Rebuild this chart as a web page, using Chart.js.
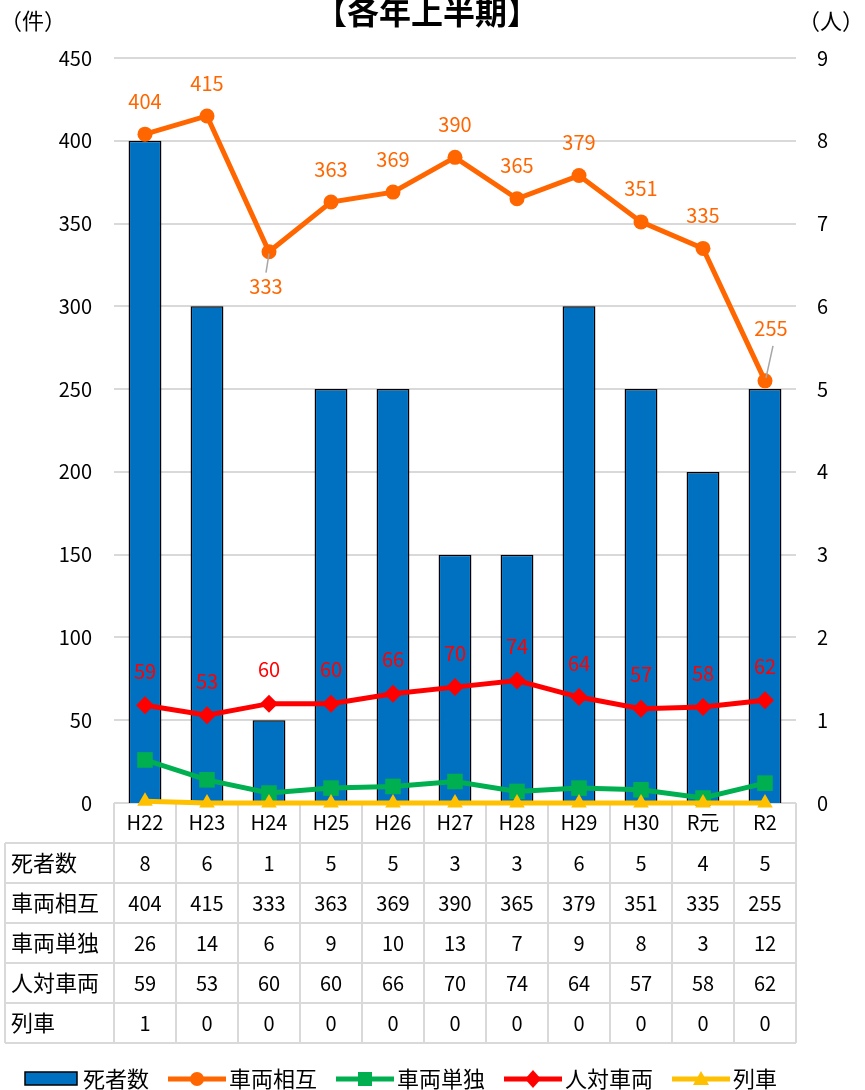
<!DOCTYPE html>
<html>
<head>
<meta charset="utf-8">
<script src="https://cdn.jsdelivr.net/npm/chart.js@4"></script>
<style>
  html, body { margin: 0; padding: 0; background: #fff; }
  #wrap { width: 865px; height: 1090px; }
</style>
</head>
<body>
<div id="wrap"><canvas id="myChart" width="865" height="1090"></canvas></div>
<script>
"use strict";

// 年次 (x軸)
const years = ['H22', 'H23', 'H24', 'H25', 'H26', 'H27', 'H28', 'H29', 'H30', 'R元', 'R2'];

// 系列
const deaths = [8, 6, 1, 5, 5, 3, 3, 6, 5, 4, 5];               // 死者数 (人)
const vehicleMutual = [404, 415, 333, 363, 369, 390, 365, 379, 351, 335, 255]; // 車両相互 (件)
const vehicleSingle = [26, 14, 6, 9, 10, 13, 7, 9, 8, 3, 12];   // 車両単独
const pedestrian = [59, 53, 60, 60, 66, 70, 74, 64, 57, 58, 62]; // 人対車両
const train = [1, 0, 0, 0, 0, 0, 0, 0, 0, 0, 0];                // 列車

// 軸の目盛
const leftMax = 450, leftStep = 50;
const rightMax = 9, rightStep = 1;

const FONT = '"Noto Sans CJK JP", "Noto Sans", sans-serif';
const ORANGE = '#FF6600';
const RED = '#FF0000';
const GREEN = '#00B050';
const YELLOW = '#FFC000';
const BLUE = '#0070C0';
const GRID = '#D9D9D9';

// ラベルの置き方 (特例だけ)
const orangeSpecial = {
    2: { dx: -3, dy: 35, leader: true },
    10: { dx: 6, dy: -52, leader: true }
};

// タイトル・単位
const titlePlugin = {
    id: 'titleText',
    afterDraw(chart) {
        const ctx = chart.ctx;
        ctx.save();
        ctx.fillStyle = '#000';
        ctx.textBaseline = 'middle';
        ctx.textAlign = 'center';
        ctx.font = 'bold 32px ' + FONT;
        ctx.fillText('【各年上半期】', 427, 12);
        ctx.font = '22px ' + FONT;
        ctx.textAlign = 'left';
        ctx.fillText('（件）', 0, 21);
        ctx.fillText('（人）', 798, 21);
        ctx.restore();
    }
};

// データラベル
const labelPlugin = {
    id: 'pointLabels',
    afterDatasetsDraw(chart) {
        const ctx = chart.ctx;
        ctx.save();
        ctx.font = '20px ' + FONT;
        ctx.textAlign = 'center';
        ctx.textBaseline = 'middle';

        // 車両相互
        const m1 = chart.getDatasetMeta(1);
        m1.data.forEach((pt, i) => {
            const sp = orangeSpecial[i];
            const dx = sp ? sp.dx : 0;
            const dy = sp ? sp.dy : -33;
            const lx = pt.x + dx, ly = pt.y + dy;
            if (sp && sp.leader) {
                ctx.strokeStyle = '#A6A6A6';
                ctx.lineWidth = 1.5;
                ctx.beginPath();
                if (dy > 0) {
                    ctx.moveTo(pt.x, pt.y + 2);
                    ctx.lineTo(lx, ly - 14);
                } else {
                    ctx.moveTo(lx + 2, ly + 17);
                    ctx.lineTo(pt.x + 1, pt.y - 3);
                }
                ctx.stroke();
            }
            ctx.fillStyle = ORANGE;
            ctx.fillText(String(vehicleMutual[i]), lx, ly);
        });

        // 人対車両
        const m3 = chart.getDatasetMeta(3);
        ctx.fillStyle = RED;
        m3.data.forEach((pt, i) => {
            ctx.fillText(String(pedestrian[i]), pt.x, pt.y - 34);
        });
        ctx.restore();
    }
};

// データ表 (線の下に描く)
const tablePlugin = {
    id: 'dataTable',
    beforeDatasetsDraw(chart) {
        const ctx = chart.ctx;
        const xs = chart.scales.x;
        const area = chart.chartArea;
        const rowH = 40;
        const top = area.bottom;
        const tableLeft = 5;
        const colW = xs.getPixelForValue(1) - xs.getPixelForValue(0);
        const rows = [
            ['死者数', deaths],
            ['車両相互', vehicleMutual],
            ['車両単独', vehicleSingle],
            ['人対車両', pedestrian],
            ['列車', train]
        ];
        const bottom = top + rowH * (rows.length + 1);

        ctx.save();
        ctx.strokeStyle = GRID;
        ctx.lineWidth = 2;
        ctx.beginPath();
        // 横線
        ctx.moveTo(area.left, top);
        ctx.lineTo(area.right, top);
        for (let r = 1; r <= rows.length + 1; r++) {
            ctx.moveTo(tableLeft, top + rowH * r);
            ctx.lineTo(area.right, top + rowH * r);
        }
        // 縦線
        ctx.moveTo(tableLeft, top + rowH);
        ctx.lineTo(tableLeft, bottom);
        for (let c = 0; c <= years.length; c++) {
            const x = xs.getPixelForValue(0) - colW / 2 + colW * c;
            ctx.moveTo(x, top);
            ctx.lineTo(x, bottom);
        }
        ctx.stroke();

        ctx.fillStyle = '#000';
        ctx.textBaseline = 'middle';
        rows.forEach((row, r) => {
            const cy = top + rowH * (r + 1) + rowH / 2;
            ctx.textAlign = 'left';
            ctx.font = '22px ' + FONT;
            ctx.fillText(row[0], 11, cy);
            ctx.textAlign = 'center';
            ctx.font = '20px ' + FONT;
            row[1].forEach((v, i) => {
                ctx.fillText(String(v), xs.getPixelForValue(i), cy);
            });
        });
        ctx.restore();
    }
};

// 凡例
const legendPlugin = {
    id: 'customLegend',
    afterDraw(chart) {
        const ctx = chart.ctx;
        const y = 1079;
        let x = 25;
        ctx.save();
        ctx.font = '22px ' + FONT;
        ctx.textBaseline = 'middle';
        ctx.textAlign = 'left';
        chart.data.datasets.forEach((ds, i) => {
            if (ds.type === 'bar') {
                ctx.fillStyle = ds.backgroundColor;
                ctx.fillRect(x, y - 7, 52, 13);
                ctx.strokeStyle = '#000';
                ctx.lineWidth = 1.5;
                ctx.strokeRect(x, y - 7, 52, 13);
                x += 58;
            } else {
                ctx.strokeStyle = ds.borderColor;
                ctx.lineWidth = 5;
                ctx.beginPath();
                ctx.moveTo(x, y);
                ctx.lineTo(x + 58, y);
                ctx.stroke();
                const cx = x + 29;
                ctx.fillStyle = ds.borderColor;
                ctx.beginPath();
                const r = 7;
                if (ds.pointStyle === 'circle') {
                    ctx.arc(cx, y, r, 0, Math.PI * 2);
                } else if (ds.pointStyle === 'rect') {
                    ctx.rect(cx - r, y - r, r * 2, r * 2);
                } else if (ds.pointStyle === 'rectRot') {
                    ctx.moveTo(cx, y - r - 2);
                    ctx.lineTo(cx + r + 1, y);
                    ctx.lineTo(cx, y + r + 2);
                    ctx.lineTo(cx - r - 1, y);
                    ctx.closePath();
                } else {
                    ctx.moveTo(cx, y - r - 1);
                    ctx.lineTo(cx + r + 1, y + r - 1);
                    ctx.lineTo(cx - r - 1, y + r - 1);
                    ctx.closePath();
                }
                ctx.fill();
                x += 61;
            }
            ctx.fillStyle = '#000';
            ctx.fillText(ds.label, x, y);
            x += ctx.measureText(ds.label).width + 19;
        });
        ctx.restore();
    }
};

function lineSet(label, data, color, style, radius, order) {
    return {
        type: 'line',
        label: label,
        data: data,
        yAxisID: 'y',
        borderColor: color,
        backgroundColor: color,
        borderWidth: 5,
        pointStyle: style,
        pointRadius: radius,
        pointBorderWidth: 0,
        pointBackgroundColor: color,
        tension: 0,
        clip: false,
        order: order
    };
}

const ctx = document.getElementById('myChart').getContext('2d');
const chart = new Chart(ctx, {
    data: {
        labels: years,
        datasets: [
            {
                type: 'bar',
                label: '死者数',
                data: deaths,
                yAxisID: 'y1',
                backgroundColor: BLUE,
                borderColor: '#000',
                borderWidth: 1.5,
                categoryPercentage: 1,
                barPercentage: 0.53,
                order: 10
            },
            lineSet('車両相互', vehicleMutual, ORANGE, 'circle', 7.5, 4),
            lineSet('車両単独', vehicleSingle, GREEN, 'rect', 11, 3),
            lineSet('人対車両', pedestrian, RED, 'rectRot', 9, 2),
            lineSet('列車', train, YELLOW, 'triangle', 9, 1)
        ]
    },
    options: {
        responsive: false,
        animation: false,
        layout: { padding: { top: 58, left: 0, right: 0, bottom: 0 } },
        plugins: {
            legend: { display: false },
            tooltip: { enabled: false },
            title: { display: false }
        },
        scales: {
            x: {
                grid: { display: false, drawTicks: false },
                border: { display: false },
                ticks: {
                    color: '#000',
                    font: { family: FONT, size: 20 },
                    padding: 7,
                    maxRotation: 0,
                    autoSkip: false
                },
                afterFit(scale) { scale.height = 287; }
            },
            y: {
                position: 'left',
                min: 0,
                max: leftMax,
                grid: { color: GRID, lineWidth: 2, drawTicks: false },
                border: { display: false },
                ticks: {
                    stepSize: leftStep,
                    color: '#000',
                    font: { family: FONT, size: 20 },
                    padding: 22
                },
                afterFit(scale) { scale.width = 114; }
            },
            y1: {
                position: 'right',
                min: 0,
                max: rightMax,
                grid: { display: false, drawTicks: false },
                border: { display: false },
                ticks: {
                    stepSize: rightStep,
                    color: '#000',
                    font: { family: FONT, size: 20 },
                    padding: 21
                },
                afterFit(scale) { scale.width = 69; }
            }
        }
    },
    plugins: [titlePlugin, labelPlugin, tablePlugin, legendPlugin]
});
</script>
</body>
</html>
